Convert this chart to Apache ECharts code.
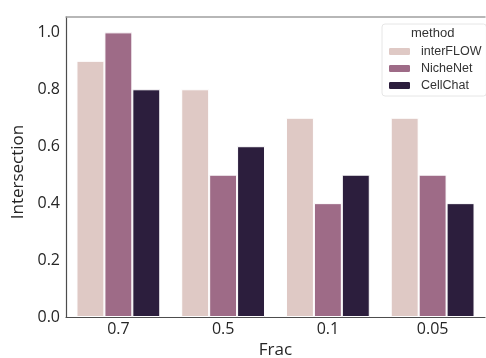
<!DOCTYPE html>
<html>
<head>
<meta charset="utf-8">
<script src="https://cdn.jsdelivr.net/npm/echarts@6/dist/echarts.min.js"></script>
<style>
  html, body { margin: 0; padding: 0; background: #fff; }
  #chart { width: 486px; height: 358px; }
</style>
</head>
<body>
<div id="chart"></div>
<script>
// Intersection score per sampling fraction, grouped by method
const fracs = ['0.7', '0.5', '0.1', '0.05'];
const methods = ['interFLOW', 'NicheNet', 'CellChat'];
const interFLOW = [0.9, 0.8, 0.7, 0.7];
const nicheNet = [1.0, 0.5, 0.4, 0.5];
const cellChat = [0.8, 0.6, 0.5, 0.4];
const yTicks = [0.0, 0.2, 0.4, 0.6, 0.8, 1.0];

const colors = ['#dfc9c5', '#9e6b87', '#2c1e3d'];
const seriesValues = [interFLOW, nicheNet, cellChat];
const font = '"Open Sans", "Noto Sans", sans-serif';
const legendFont = '"Liberation Sans", Arial, sans-serif';

const chart = echarts.init(document.getElementById('chart'), null, { renderer: 'canvas' });

chart.setOption({
  animation: false,
  color: colors,
  grid: { left: 66, right: 1, top: 17, bottom: 41, containLabel: false, outerBoundsMode: 'none' },
  legend: {
    data: methods,
    orient: 'vertical',
    left: 382,
    top: 24,
    width: 100,
    padding: [21, 5, 4, 5],
    itemWidth: 23,
    itemHeight: 9,
    itemGap: 4,
    borderColor: '#e6e6e6',
    borderWidth: 1,
    borderRadius: 3,
    backgroundColor: '#fff',
    textStyle: { fontFamily: legendFont, fontSize: 12.5, color: '#333', padding: [0, 0, 0, 5] }
  },
  graphic: [{
    type: 'text',
    z: 100,
    left: 411,
    top: 27,
    style: { text: 'method', fontFamily: legendFont, fontSize: 13, fill: '#333' }
  }],
  xAxis: [{
    type: 'category',
    data: fracs,
    name: 'Frac',
    nameLocation: 'middle',
    nameGap: 22,
    nameTextStyle: { fontFamily: font, fontSize: 17, color: '#262626' },
    axisLine: { lineStyle: { color: '#4d4d4d', width: 1.2 } },
    axisTick: { show: false },
    axisLabel: { fontFamily: font, fontSize: 16, color: '#262626', margin: 4 }
  }, {
    type: 'category',
    data: fracs,
    position: 'top',
    axisLine: { lineStyle: { color: '#a0a0a0', width: 1.5 } },
    axisTick: { show: false },
    axisLabel: { show: false }
  }],
  yAxis: {
    type: 'value',
    min: 0,
    max: 1.054,
    interval: 0.2,
    name: 'Intersection',
    nameLocation: 'middle',
    nameGap: 38,
    nameTextStyle: { fontFamily: font, fontSize: 17, color: '#262626', padding: [0, 10, 0, 0] },
    axisLine: { show: true, lineStyle: { color: '#4d4d4d', width: 1.2 } },
    axisTick: { show: false },
    splitLine: { show: false },
    axisLabel: {
      fontFamily: font,
      fontSize: 16,
      color: '#262626',
      margin: 6,
      padding: [0, 0, 14, 0],
      formatter: function (v) {
        return yTicks.some(t => Math.abs(t - v) < 1e-9) ? v.toFixed(1) : '';
      }
    }
  },
  series: methods.map((m, i) => ({
    name: m,
    type: 'bar',
    data: seriesValues[i],
    barGap: '0%',
    barCategoryGap: '20%',
    itemStyle: { color: colors[i], borderColor: '#ffffff', borderWidth: 1 }
  }))
});
</script>
</body>
</html>
